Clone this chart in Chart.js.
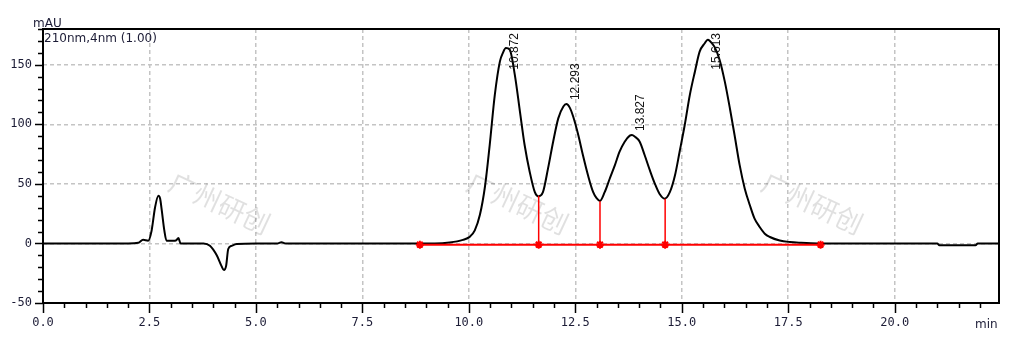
<!DOCTYPE html>
<html>
<head>
<meta charset="utf-8">
<script src="https://cdn.jsdelivr.net/npm/chart.js@4.4.1/dist/chart.umd.min.js"></script>
<style>
  body { margin: 0; background: #fff; }
  canvas { display: block; }
</style>
</head>
<body>
<canvas id="chrom" width="1024" height="349"></canvas>
<script>
// detector trace (min / mAU)
let TIMES = [0, 1.0, 2.0, 2.24, 2.35, 2.47, 2.55, 2.63, 2.71, 2.75, 2.79, 2.85, 2.90, 3.06, 3.12, 3.18, 3.23, 3.5,
  3.77, 3.92, 4.08, 4.19, 4.25, 4.30, 4.35, 4.43, 4.55, 5.0, 5.5, 5.6, 5.7, 6.5, 7.5, 8.5, 9.2, 9.55, 9.86,
  10.02, 10.14, 10.26, 10.38, 10.49, 10.61, 10.73, 10.80, 10.87, 10.96, 11.08, 11.20, 11.31, 11.43, 11.55, 11.63,
  11.74, 11.86, 11.98, 12.10, 12.22, 12.29, 12.37, 12.45, 12.57, 12.68, 12.80, 12.92, 13.00, 13.08, 13.19, 13.31,
  13.43, 13.54, 13.66, 13.78, 13.83, 13.90, 14.01, 14.13, 14.25, 14.37, 14.48, 14.60, 14.72, 14.84, 14.95, 15.07,
  15.19, 15.31, 15.42, 15.54, 15.61, 15.66, 15.77, 15.89, 16.01, 16.13, 16.24, 16.36, 16.48, 16.60, 16.71, 16.83,
  16.95, 17.07, 17.30, 17.54, 17.77, 18.2, 19.5, 20.5, 21.0, 21.05, 21.9, 21.95, 22.45];
let SIGNAL = [0, 0, 0, 0.5, 3, 2.3, 10.7, 30, 40, 37.7, 27.5, 10.7, 2.3, 2.3, 2.5, 4.5, 0, 0,
  0, -2, -10, -18.8, -22.4, -18.8, -4.7, -2, -0.5, 0, 0, 1, 0, 0, 0, 0, 0, 0.8, 3,
  5.5, 11, 24, 48, 82.6, 124.7, 152.8, 160, 164, 162.6, 141.5, 110.7, 82.6, 60, 43, 39.5,
  43, 63, 85.4, 105, 115, 117, 114, 106.5, 91, 74, 57, 43, 38, 35.7, 43, 54.5,
  65.7, 77, 85.4, 90.5, 91, 89.6, 85.5, 74, 61.5, 50, 41.5, 37.6, 43, 57, 77, 99.4,
  124.7, 144.4, 161, 168, 171, 170, 165, 154, 136, 113.5, 91, 65.7, 46, 32, 20.8, 13.8,
  8.2, 5.4, 2.5, 1.2, 0.6, 0, 0, 0, 0, -1.5, -1.5, 0, 0];

let PEAK_TIMES = [10.872, 12.293, 13.827, 15.613];
let PEAK_HEIGHTS = [164, 117, 91, 171];
let PEAK_LABELS = ["10.872", "12.293", "13.827", "15.613"];

// integration baseline and peak cuts
let BASE_START = 8.85;
let BASE_END = 18.26;
let BASE_LEVEL = -1;
let CUT_TIMES = [11.64, 13.08, 14.61];
let CUT_HEIGHTS = [40, 35.5, 37.5];

let X_MIN = 0, X_MAX = 22.45, X_STEP = 2.5, X_MINOR = 0.5;
let Y_MIN = -50, Y_MAX = 180, Y_STEP = 50, Y_MINOR = 10;

let WATERMARK = "广州研创";
let WATERMARK_AT = [[4.15, 34], [11.15, 34], [18.07, 34]];

const RED = "#ff0000";
const TEXT_COL = "#1c1c36";
const GRID = { color: "#c4c4c4", lineWidth: 1.5, drawTicks: false };

let trace = TIMES.map((t, i) => ({ x: t, y: SIGNAL[i] }));
let markTimes = [BASE_START].concat(CUT_TIMES, [BASE_END]);

let datasets = [{
  data: trace,
  showLine: true,
  borderColor: "#000",
  borderWidth: 2,
  pointRadius: 0,
  cubicInterpolationMode: "monotone",
  order: 1
}, {
  data: [{ x: BASE_START, y: BASE_LEVEL }, { x: BASE_END, y: BASE_LEVEL }],
  showLine: true,
  borderColor: RED,
  borderWidth: 2,
  pointRadius: 0,
  order: 0
}];
CUT_TIMES.forEach((t, i) => {
  datasets.push({
    data: [{ x: t, y: BASE_LEVEL }, { x: t, y: CUT_HEIGHTS[i] }],
    showLine: true,
    borderColor: RED,
    borderWidth: 1.5,
    pointRadius: 0,
    order: 0
  });
});
datasets.push({
  data: markTimes.map(t => ({ x: t, y: BASE_LEVEL })),
  showLine: false,
  pointStyle: "star",
  pointRadius: 4,
  borderColor: RED,
  backgroundColor: RED,
  borderWidth: 2,
  order: 0
});

const extras = {
  id: "extras",
  beforeDatasetsDraw(chart) {
    const ctx = chart.ctx, xs = chart.scales.x, ys = chart.scales.y;
    ctx.save();
    ctx.font = '27px "Noto Sans CJK SC"';
    ctx.fillStyle = "rgba(0,0,0,0.12)";
    ctx.textAlign = "center";
    ctx.textBaseline = "middle";
    WATERMARK_AT.forEach(p => {
      ctx.save();
      ctx.translate(xs.getPixelForValue(p[0]), ys.getPixelForValue(p[1]));
      ctx.rotate(25 * Math.PI / 180);
      ctx.fillText(WATERMARK, 0, 0);
      ctx.restore();
    });
    ctx.restore();
  },
  afterDraw(chart) {
    const ctx = chart.ctx, a = chart.chartArea, xs = chart.scales.x, ys = chart.scales.y;
    ctx.save();
    // frame
    ctx.strokeStyle = "#000";
    ctx.lineWidth = 2;
    ctx.strokeRect(a.left, a.top, a.right - a.left, a.bottom - a.top);
    // tick marks
    ctx.lineWidth = 1.5;
    ctx.beginPath();
    for (let v = X_MIN; v <= X_MAX + 1e-6; v += X_MINOR) {
      const px = Math.round(xs.getPixelForValue(v)) + 0.5;
      const major = Math.abs(v / X_STEP - Math.round(v / X_STEP)) < 1e-6;
      ctx.moveTo(px, a.bottom);
      ctx.lineTo(px, a.bottom + (major ? 10 : 5));
    }
    for (let v = Y_MIN; v <= Y_MAX + 1e-6; v += Y_MINOR) {
      const py = Math.round(ys.getPixelForValue(v)) + 0.5;
      const major = Math.abs(v / Y_STEP - Math.round(v / Y_STEP)) < 1e-6;
      ctx.moveTo(a.left, py);
      ctx.lineTo(a.left - (major ? 8 : 5), py);
    }
    ctx.stroke();
    // axis titles and channel text
    ctx.fillStyle = TEXT_COL;
    ctx.font = '12px "DejaVu Sans"';
    ctx.textBaseline = "alphabetic";
    ctx.textAlign = "left";
    ctx.fillText("mAU", 33, 27);
    ctx.fillText("210nm,4nm (1.00)", 44, 42);
    ctx.fillText("min", 975, 328);
    // peak retention times
    ctx.font = '12px "Liberation Sans"';
    ctx.fillStyle = "#111";
    ctx.textBaseline = "middle";
    PEAK_LABELS.forEach((lab, i) => {
      const w = ctx.measureText(lab).width;
      const px = xs.getPixelForValue(PEAK_TIMES[i]) + 9;
      const py = Math.max(ys.getPixelForValue(PEAK_HEIGHTS[i]) - 4, a.top + 4 + w);
      ctx.save();
      ctx.translate(px, py);
      ctx.rotate(-Math.PI / 2);
      ctx.fillText(lab, 0, 0);
      ctx.restore();
    });
    ctx.restore();
  }
};

new Chart(document.getElementById("chrom"), {
  type: "scatter",
  data: { datasets: datasets },
  options: {
    responsive: false,
    animation: false,
    devicePixelRatio: 1,
    layout: { padding: { top: 29, right: 25, left: 0, bottom: 0 } },
    plugins: { legend: { display: false }, tooltip: { enabled: false } },
    scales: {
      x: {
        type: "linear",
        min: X_MIN,
        max: X_MAX,
        border: { display: false, dash: [4, 3] },
        grid: GRID,
        ticks: {
          stepSize: X_STEP,
          includeBounds: false,
          padding: 13,
          maxRotation: 0,
          autoSkip: false,
          color: TEXT_COL,
          font: { family: "DejaVu Sans Mono", size: 12 },
          callback: v => v.toFixed(1)
        },
        afterFit: s => { s.height = 46; }
      },
      y: {
        min: Y_MIN,
        max: Y_MAX,
        border: { display: false, dash: [4, 3] },
        grid: GRID,
        ticks: {
          stepSize: Y_STEP,
          includeBounds: false,
          padding: 11,
          color: TEXT_COL,
          font: { family: "DejaVu Sans Mono", size: 12 }
        },
        afterFit: s => { s.width = 43; }
      }
    }
  },
  plugins: [extras]
});
</script>
</body>
</html>
